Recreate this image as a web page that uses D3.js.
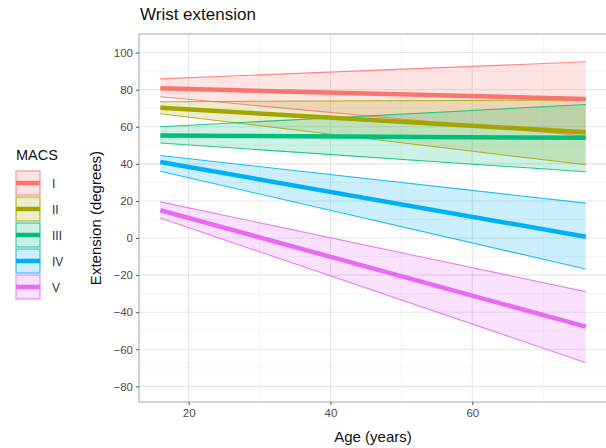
<!DOCTYPE html>
<html>
<head>
<meta charset="utf-8">
<script src="https://cdn.jsdelivr.net/npm/d3@7"></script>
<style>
  html, body { margin: 0; padding: 0; background: #fff; }
  svg { display: block; font-family: "Liberation Sans", Arial, sans-serif; }
</style>
</head>
<body>
<svg id="chart" width="606" height="448"></svg>
<script>
// MACS levels and their fitted trends over age
const groups = ["I", "II", "III", "IV", "V"];
const colors = ["#F8766D", "#A3A500", "#00BF7D", "#00B0F6", "#E76BF3"];
const ageSpan = [16, 76];

// fitted extension (degrees) at the youngest and oldest age
const meanStart = [80.7, 70.2, 55.3, 41.0, 15.0];
const meanEnd = [75.0, 57.0, 54.0, 0.7, -47.8];
// confidence band limits at both ends
const lowerStart = [76.2, 67.0, 51.2, 36.0, 10.8];
const upperStart = [85.8, 73.5, 60.0, 44.5, 19.5];
const lowerEnd = [55.0, 39.5, 35.7, -16.7, -67.2];
const upperEnd = [95.0, 74.5, 72.0, 18.8, -28.9];

const xTicks = [20, 40, 60];
const xMinor = [30, 50, 70];
const yTicks = [-80, -60, -40, -20, 0, 20, 40, 60, 80, 100];
const yMinor = [-70, -50, -30, -10, 10, 30, 50, 70, 90];

const svg = d3.select("#chart");
const panel = { left: 139, right: 607, top: 34, bottom: 402 };

const x = d3.scaleLinear().domain([13, 79]).range([panel.left, panel.right]);
const y = d3.scaleLinear().domain([-88.4, 110]).range([panel.bottom, panel.top]);

// title
svg.append("text")
  .attr("x", 140).attr("y", 20)
  .attr("font-size", 17).attr("fill", "#111")
  .attr("font-weight", "500")
  .text("Wrist extension");

// panel grid
const grid = svg.append("g");
grid.selectAll(".ym").data(yMinor).join("line")
  .attr("x1", panel.left).attr("x2", panel.right)
  .attr("y1", d => y(d)).attr("y2", d => y(d))
  .attr("stroke", "#f3f3f3").attr("stroke-width", 0.8);
grid.selectAll(".xm").data(xMinor).join("line")
  .attr("y1", panel.top).attr("y2", panel.bottom)
  .attr("x1", d => x(d)).attr("x2", d => x(d))
  .attr("stroke", "#f3f3f3").attr("stroke-width", 0.8);
grid.selectAll(".yM").data(yTicks).join("line")
  .attr("x1", panel.left).attr("x2", panel.right)
  .attr("y1", d => y(d)).attr("y2", d => y(d))
  .attr("stroke", "#e6e6e6").attr("stroke-width", 1.1);
grid.selectAll(".xM").data(xTicks).join("line")
  .attr("y1", panel.top).attr("y2", panel.bottom)
  .attr("x1", d => x(d)).attr("x2", d => x(d))
  .attr("stroke", "#e6e6e6").attr("stroke-width", 1.1);

// bands and fitted lines
const series = groups.map((g, i) => ({
  g, color: colors[i],
  mean: [[ageSpan[0], meanStart[i]], [ageSpan[1], meanEnd[i]]],
  lower: [[ageSpan[0], lowerStart[i]], [ageSpan[1], lowerEnd[i]]],
  upper: [[ageSpan[0], upperStart[i]], [ageSpan[1], upperEnd[i]]]
}));

const area = d3.area()
  .x(d => x(d.age)).y0(d => y(d.lo)).y1(d => y(d.hi));
const line = d3.line().x(d => x(d[0])).y(d => y(d[1]));

const plot = svg.append("g");
series.forEach((s, i) => {
  const pts = [
    { age: ageSpan[0], lo: lowerStart[i], hi: upperStart[i] },
    { age: ageSpan[1], lo: lowerEnd[i], hi: upperEnd[i] }
  ];
  plot.append("path").attr("d", area(pts))
    .attr("fill", s.color).attr("fill-opacity", 0.2);
});
series.forEach(s => {
  [s.lower, s.upper].forEach(b => {
    plot.append("path").attr("d", line(b))
      .attr("fill", "none").attr("stroke", s.color)
      .attr("stroke-width", 1.1).attr("stroke-opacity", 0.85);
  });
});
series.forEach(s => {
  plot.append("path").attr("d", line(s.mean))
    .attr("fill", "none").attr("stroke", s.color)
    .attr("stroke-width", 4.5);
});

// panel border
svg.append("rect")
  .attr("x", panel.left).attr("y", panel.top)
  .attr("width", panel.right - panel.left).attr("height", panel.bottom - panel.top)
  .attr("fill", "none").attr("stroke", "#b5b5b5").attr("stroke-width", 1.2);

// axes
const xAxis = svg.append("g")
  .attr("transform", `translate(0,${panel.bottom})`)
  .call(d3.axisBottom(x).tickValues(xTicks).tickSize(3).tickPadding(4));
const yAxis = svg.append("g")
  .attr("transform", `translate(${panel.left},0)`)
  .call(d3.axisLeft(y).tickValues(yTicks).tickSize(3).tickPadding(3));
[xAxis, yAxis].forEach(a => {
  a.select(".domain").remove();
  a.selectAll(".tick line").attr("stroke", "#555");
  a.selectAll(".tick text").attr("fill", "#4d4d4d")
    .attr("font-size", 11.5).attr("font-family", "Liberation Sans, Arial, sans-serif");
});

// axis titles
svg.append("text")
  .attr("x", (panel.left + panel.right) / 2).attr("y", 442)
  .attr("text-anchor", "middle").attr("font-size", 15).attr("fill", "#111")
  .text("Age (years)");
svg.append("text")
  .attr("transform", `translate(101,${(panel.top + panel.bottom) / 2}) rotate(-90)`)
  .attr("text-anchor", "middle").attr("font-size", 15).attr("fill", "#111")
  .text("Extension (degrees)");

// legend
const legend = svg.append("g");
legend.append("text")
  .attr("x", 16).attr("y", 160)
  .attr("font-size", 14.5).attr("fill", "#111")
  .text("MACS");
const keyH = 26, keyW = 26, keyTop = 170, keyLeft = 15;
groups.forEach((g, i) => {
  const k = legend.append("g").attr("transform", `translate(${keyLeft},${keyTop + i * keyH})`);
  k.append("rect").attr("x", 1).attr("y", 1).attr("width", keyW - 2).attr("height", keyH - 2)
    .attr("fill", colors[i]).attr("fill-opacity", 0.2)
    .attr("stroke", colors[i]).attr("stroke-width", 1.1).attr("stroke-opacity", 0.85);
  k.append("line").attr("x1", 1).attr("x2", keyW - 1)
    .attr("y1", keyH / 2).attr("y2", keyH / 2)
    .attr("stroke", colors[i]).attr("stroke-width", 4.5);
  legend.append("text")
    .attr("x", 52).attr("y", keyTop + i * keyH + keyH / 2 + 4.5)
    .attr("font-size", 12).attr("fill", "#333")
    .text(g);
});
</script>
</body>
</html>
